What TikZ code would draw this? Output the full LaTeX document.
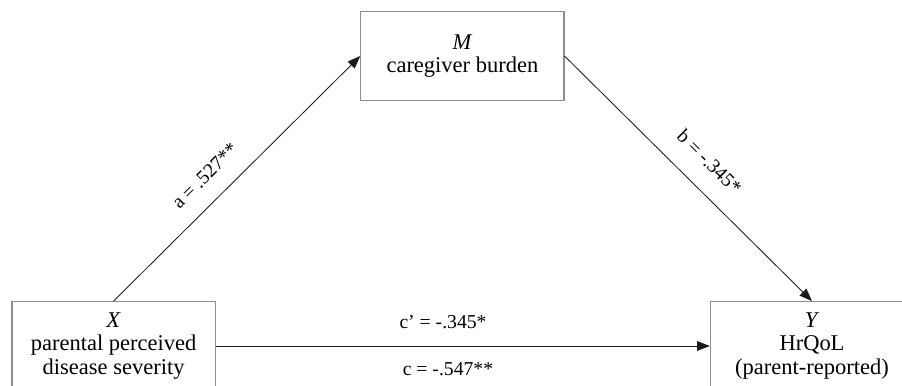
\documentclass[tikz,border=0pt]{standalone}
\usepackage{fontspec}
\setmainfont{Liberation Serif}
\usetikzlibrary{arrows.meta}
\definecolor{boxgray}{HTML}{8E8E8E}
\definecolor{pathink}{HTML}{1A1A1A}

\begin{document}
\begin{tikzpicture}[auto,
  block/.style={draw=boxgray, line width=0.75pt, rectangle, minimum width=5.08cm, minimum height=2.22cm, align=center, text=black, font=\fontsize{16}{16.5}\selectfont},
  path/.style={draw=pathink, line width=0.6pt, -{Triangle[length=0.32cm, width=0.24cm]}},
  coef/.style={font=\fontsize{14}{15}\selectfont, inner sep=1pt, text=black}]
\useasboundingbox (0,0) rectangle (22.55,-9.65);
\clip (0,0) rectangle (22.55,-9.65);
\node[block] (m) at (11.56,-1.40) {\textit{M}\\caregiver burden};
\node[block] (x) at (2.84,-8.65)  {\textit{X}\\parental perceived\\disease severity};
\node[block] (y) at (20.30,-8.65) {\textit{Y}\\HrQoL\\(parent-reported)};
\draw[path] (x.north) -- node[coef, sloped, pos=0.44, above=0.4cm] {a = .527**} (m.west);
\draw[path] (m.east) -- node[coef, sloped, pos=0.51, above=0.45cm] {b = -.345*} (y.north);
\draw[path] (x.east) -- node[coef, pos=0.46, above=0.38cm] {c’ = -.345*}
                        node[coef, pos=0.47, below=0.38cm] {c = -.547**} (y.west);
\end{tikzpicture}
\end{document}
